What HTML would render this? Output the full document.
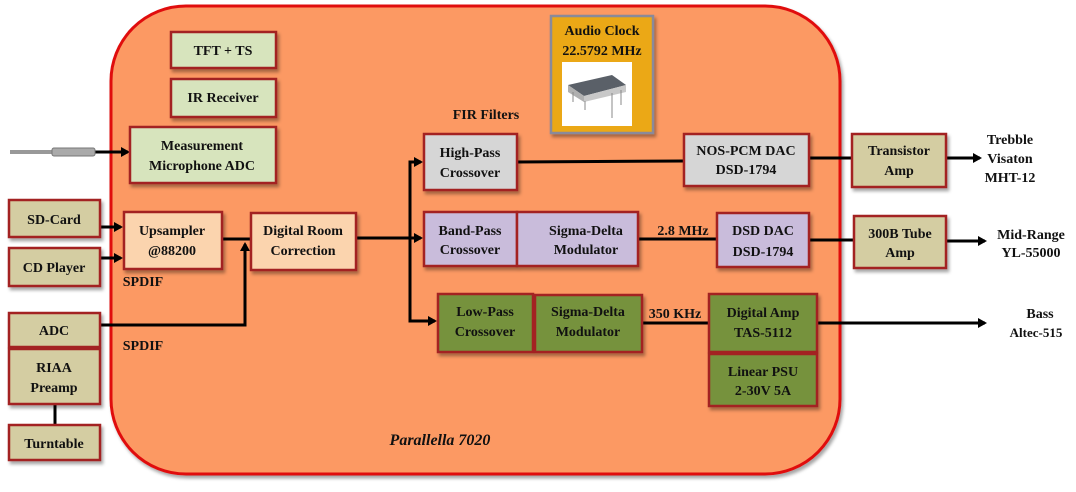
<!DOCTYPE html>
<html><head><meta charset="utf-8"><style>
html,body{margin:0;padding:0;background:#fff;}
svg text{font-family:"Liberation Serif",serif;font-weight:bold;font-size:14px;fill:#111;text-anchor:middle;}
</style></head><body>
<svg width="1076" height="487" viewBox="0 0 1076 487" xmlns="http://www.w3.org/2000/svg">
<defs>
<marker id="ar" markerWidth="10" markerHeight="10" refX="7" refY="5" orient="auto" markerUnits="userSpaceOnUse">
<path d="M0,0 L9,5 L0,10 z" fill="#000"/></marker>
<filter id="sh" x="-10%" y="-10%" width="130%" height="130%"><feDropShadow dx="2" dy="3" stdDeviation="1.5" flood-color="#000" flood-opacity="0.35"/></filter>
</defs>
<rect x="111" y="6" width="729" height="468" rx="75" fill="#FC9964" stroke="#E01010" stroke-width="3" filter="url(#sh)"/>

<g stroke="#000" stroke-width="3" fill="none">
<line x1="95" y1="152" x2="128" y2="152" marker-end="url(#ar)"/>
<line x1="101" y1="227" x2="121" y2="227" marker-end="url(#ar)"/>
<line x1="101" y1="258" x2="121" y2="258" marker-end="url(#ar)"/>
<line x1="222" y1="239" x2="250" y2="239"/>
<polyline points="101,325 245,325 245,244" marker-end="url(#ar)"/>
<line x1="356" y1="238" x2="421" y2="238" marker-end="url(#ar)"/>
<polyline points="421,162 410,162 410,321 435,321" marker-end="url(#ar)"/>
<line x1="410" y1="162" x2="421" y2="162" marker-end="url(#ar)"/>
<line x1="517" y1="162" x2="683" y2="161"/>
<line x1="809" y1="158" x2="851" y2="158"/>
<line x1="946" y1="158" x2="980" y2="158" marker-end="url(#ar)"/>
<line x1="638" y1="239" x2="716" y2="239"/>
<line x1="809" y1="240" x2="853" y2="240"/>
<line x1="946" y1="241" x2="985" y2="241" marker-end="url(#ar)"/>
<line x1="642" y1="323" x2="708" y2="323"/>
<line x1="817" y1="323" x2="985" y2="323" marker-end="url(#ar)"/>
<line x1="55" y1="404" x2="55" y2="425"/>
</g>
<rect x="10" y="150" width="45" height="4" fill="#999"/>
<rect x="52" y="148" width="43" height="8" rx="2" fill="#aaa" stroke="#777" stroke-width="1"/>

<g stroke="#A32020" stroke-width="2.5" filter="url(#sh)">
<rect x="171" y="32" width="105" height="36" fill="#D7E4BD"/>
<rect x="171" y="79" width="105" height="38" fill="#D7E4BD"/>
<rect x="130" y="127" width="146" height="56" fill="#D7E4BD"/>
<rect x="9" y="200" width="91" height="37" fill="#D4CDA2"/>
<rect x="9" y="248" width="91" height="38" fill="#D4CDA2"/>
<rect x="9" y="313" width="91" height="34" fill="#D4CDA2"/>
<rect x="9" y="349" width="91" height="55" fill="#D4CDA2"/>
<rect x="9" y="425" width="91" height="35" fill="#D4CDA2"/>
<rect x="124" y="212" width="98" height="57" fill="#FBD4AE"/>
<rect x="251" y="213" width="105" height="57" fill="#FBD4AE"/>
<rect x="424" y="134" width="93" height="56" fill="#D6D6D6"/>
<rect x="424" y="212" width="93" height="54" fill="#C9BCDB"/>
<rect x="517" y="212" width="121" height="54" fill="#C9BCDB"/>
<rect x="438" y="294" width="95" height="58" fill="#76923C"/>
<rect x="535" y="295" width="107" height="57" fill="#76923C"/>
<rect x="684" y="134" width="125" height="52" fill="#D6D6D6"/>
<rect x="717" y="213" width="92" height="54" fill="#C9BCDB"/>
<rect x="709" y="294" width="108" height="58" fill="#76923C"/>
<rect x="709" y="354" width="108" height="52" fill="#76923C"/>
<rect x="852" y="134" width="94" height="53" fill="#D4CDA2"/>
<rect x="854" y="216" width="92" height="52" fill="#D4CDA2"/>
</g>
<rect x="551" y="16" width="102" height="117" fill="#EBA812" stroke="#8A8A9A" stroke-width="2.5" filter="url(#sh)"/>
<rect x="562" y="62" width="70" height="64" fill="#fff"/>
<polygon points="568,85 612,75 626,85 584,96" fill="#5a6068"/>
<polygon points="568,85 584,96 584,102 568,92" fill="#b0b0b0"/>
<polygon points="584,96 626,85 626,92 584,102" fill="#c8c8c8"/>
<g stroke="#888" stroke-width="1"><line x1="573" y1="92" x2="573" y2="102"/><line x1="612" y1="93" x2="612" y2="118"/><line x1="621" y1="90" x2="621" y2="105"/><line x1="585" y1="101" x2="585" y2="110"/></g>

<text x="223" y="55">TFT + TS</text>
<text x="223" y="102">IR Receiver</text>
<text x="202" y="150">Measurement</text>
<text x="202" y="170">Microphone ADC</text>
<text x="54" y="224">SD-Card</text>
<text x="54" y="272">CD Player</text>
<text x="54" y="335">ADC</text>
<text x="54" y="372">RIAA</text>
<text x="54" y="392">Preamp</text>
<text x="54" y="448">Turntable</text>
<text x="172" y="235">Upsampler</text>
<text x="172" y="255">@88200</text>
<text x="303" y="235">Digital Room</text>
<text x="303" y="255">Correction</text>
<text x="143" y="286">SPDIF</text>
<text x="143" y="350">SPDIF</text>
<text x="486" y="119">FIR Filters</text>
<text x="470" y="157">High-Pass</text>
<text x="470" y="177">Crossover</text>
<text x="470" y="235">Band-Pass</text>
<text x="470" y="254">Crossover</text>
<text x="586" y="235">Sigma-Delta</text>
<text x="586" y="254">Modulator</text>
<text x="485" y="316">Low-Pass</text>
<text x="485" y="336">Crossover</text>
<text x="588" y="316">Sigma-Delta</text>
<text x="588" y="336">Modulator</text>
<text x="602" y="35">Audio Clock</text>
<text x="602" y="55">22.5792 MHz</text>
<text x="746" y="155">NOS-PCM DAC</text>
<text x="746" y="174">DSD-1794</text>
<text x="683" y="235">2.8 MHz</text>
<text x="763" y="235">DSD DAC</text>
<text x="763" y="256">DSD-1794</text>
<text x="675" y="318">350 KHz</text>
<text x="763" y="317">Digital Amp</text>
<text x="763" y="337">TAS-5112</text>
<text x="763" y="376">Linear PSU</text>
<text x="763" y="395">2-30V 5A</text>
<text x="899" y="155">Transistor</text>
<text x="899" y="175">Amp</text>
<text x="900" y="238">300B Tube</text>
<text x="900" y="257">Amp</text>
<text x="1010" y="144">Trebble</text>
<text x="1010" y="163">Visaton</text>
<text x="1010" y="182">MHT-12</text>
<text x="1031" y="239">Mid-Range</text>
<text x="1031" y="257">YL-55000</text>
<text x="1040" y="318">Bass</text>
<text x="1036" y="337" style="font-size:13px">Altec-515</text>
<text x="440" y="445" style="font-style:italic;font-size:16px">Parallella 7020</text>
</svg>
</body></html>
